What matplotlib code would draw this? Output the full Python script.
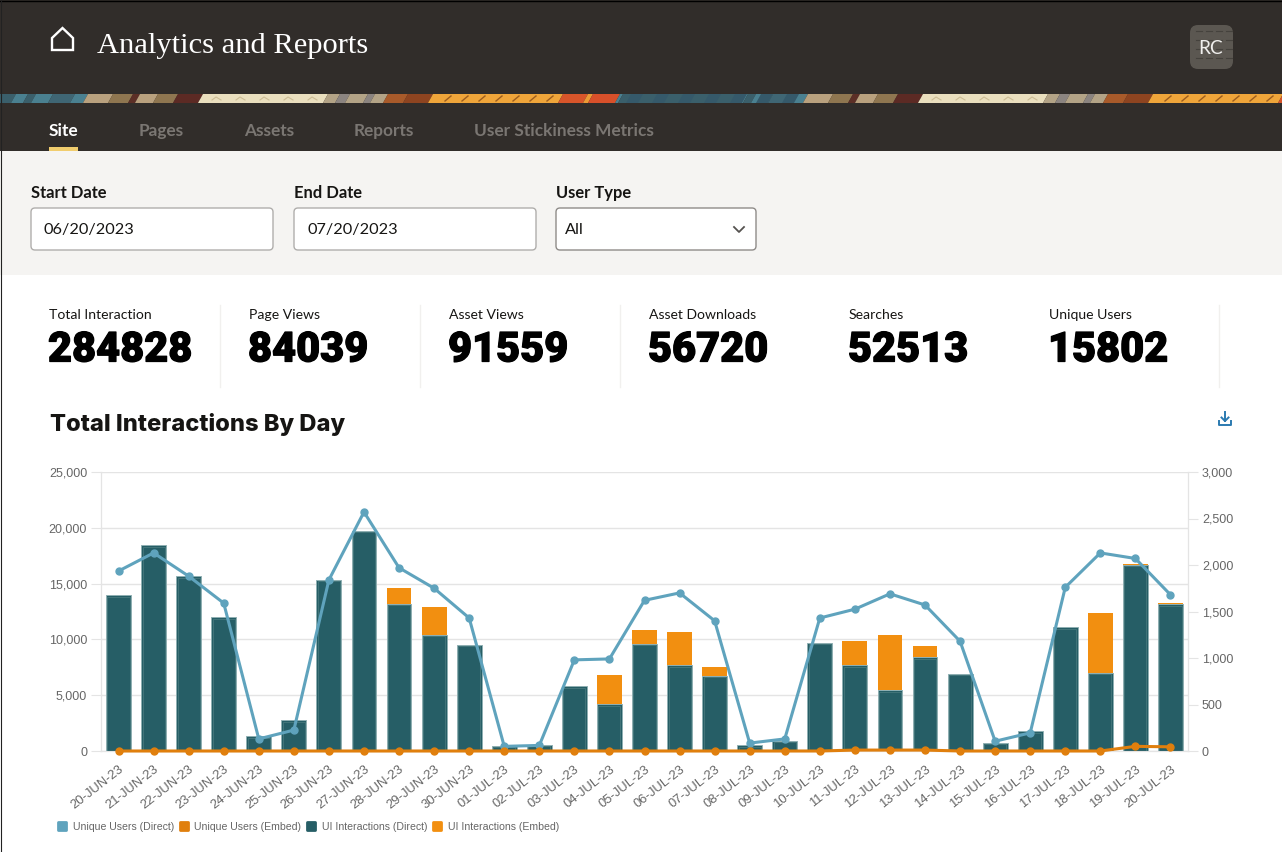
import matplotlib
matplotlib.use("Agg")
import matplotlib.pyplot as plt
import matplotlib.patheffects as pe
from matplotlib.lines import Line2D
from matplotlib.markers import MarkerStyle
from matplotlib.patches import FancyBboxPatch, Polygon, Rectangle

W, H = 1282, 852

days = ['20-JUN-23', '21-JUN-23', '22-JUN-23', '23-JUN-23', '24-JUN-23', '25-JUN-23', '26-JUN-23',
        '27-JUN-23', '28-JUN-23', '29-JUN-23', '30-JUN-23', '01-JUL-23', '02-JUL-23', '03-JUL-23',
        '04-JUL-23', '05-JUL-23', '06-JUL-23', '07-JUL-23', '08-JUL-23', '09-JUL-23', '10-JUL-23',
        '11-JUL-23', '12-JUL-23', '13-JUL-23', '14-JUL-23', '15-JUL-23', '16-JUL-23', '17-JUL-23',
        '18-JUL-23', '19-JUL-23', '20-JUL-23']
ui_direct = [13950, 18450, 15650, 12000, 1300, 2750, 15350, 19750, 13200, 10400, 9500, 450, 550, 5800,
             4200, 9600, 7700, 6750, 500, 900, 9700, 7700, 5450, 8400, 6900, 750, 1750, 11100,
             7000, 16700, 13150]
ui_embed = [0, 0, 0, 0, 0, 0, 0, 0, 1400, 2500, 0, 0, 0, 0,
            2600, 1250, 2950, 750, 0, 0, 0, 2150, 4950, 1000, 0, 0, 0, 0,
            5400, 100, 100]
users_direct = [1935, 2130, 1880, 1590, 130, 225, 1840, 2570, 1970, 1750, 1430, 50, 60, 980,
                990, 1620, 1700, 1400, 85, 130, 1430, 1525, 1690, 1570, 1180, 105, 195, 1760,
                2130, 2070, 1680]
users_embed = [0, 0, 0, 0, 0, 0, 0, 0, 0, 0, 0, 0, 0, 0,
               0, 0, 0, 0, 0, 0, 0, 10, 10, 10, 0, 0, 0, 0,
               0, 50, 45]

left_ticks = [0, 5000, 10000, 15000, 20000, 25000]
right_ticks = [0, 500, 1000, 1500, 2000, 2500, 3000]

tabs = ['Site', 'Pages', 'Assets', 'Reports', 'User Stickiness Metrics']
tab_x = [49, 139, 244, 354, 474]
stat_names = ['Total Interaction', 'Page Views', 'Asset Views', 'Asset Downloads', 'Searches', 'Unique Users']
stat_values = ['284828', '84039', '91559', '56720', '52513', '15802']
stat_x = [49, 249, 449, 649, 849, 1049]
separator_x = [220, 420, 620, 1219]

C_HEAD = '#312d2a'
C_TEAL = '#265e66'
C_ORANGE = '#f28f10'
C_LINE = '#5fa3bd'
C_LINE2 = '#e07f0d'
C_GRID = '#e4e4e4'
C_TICK = '#666666'

UI_FONT = ['Lato', 'DejaVu Sans']
CHART_FONT = ['Liberation Sans', 'DejaVu Sans']


def px(size):
    return size * 0.72


fig = plt.figure(figsize=(W / 100, H / 100), dpi=100, facecolor='white')

# page furniture, in pixel coordinates
bg = fig.add_axes([0, 0, 1, 1])
bg.set_xlim(0, W)
bg.set_ylim(H, 0)
bg.axis('off')

bg.add_patch(Rectangle((0, 0), W, 151, color=C_HEAD, lw=0))
bg.add_patch(Rectangle((0, 151), W, 124, color='#f5f4f2', lw=0))
bg.plot([0, W], [0.5, 0.5], color='#000000', lw=1)
bg.plot([0.5, 0.5], [0, H], color='#222222', lw=0.8)

# woven banner strip, repeats every 720 px
strip = [(-100, 13, '#3a5f6b'), (13, 25, '#4a8090'), (25, 33, '#3a5f6b'), (33, 50, '#4a8090'),
         (50, 72, '#3f6674'), (72, 85, '#4a8090'), (85, 110, '#b9a17e'), (110, 130, '#8f7650'),
         (130, 137, '#5c2f26'), (137, 155, '#b9a17e'), (155, 175, '#8f7650'), (175, 200, '#5c2a24'),
         (200, 325, '#eadfbe'), (325, 337, '#b3a386'), (337, 347, '#8b8480'), (347, 365, '#b3a386'),
         (365, 372, '#8b8480'), (372, 385, '#b3a386'), (385, 405, '#a85a2a'), (405, 430, '#8e4420'),
         (430, 560, '#efa53a'), (560, 585, '#d8552a'), (585, 590, '#ec9a35'), (590, 617, '#d8502a'),
         (617, 620, '#4a8090')]
for shift in (0, 720):
    for x0, x1, col in strip:
        bg.add_patch(Polygon([(x0 + shift + 3, 94), (x1 + shift + 3, 94), (x1 + shift - 2, 103), (x0 + shift - 2, 103)],
                             color=col, lw=0))
    for sx in range(445, 560, 17):
        bg.plot([sx + shift + 6, sx + shift], [96, 101], color='#9c5d1e', lw=1)
    for sx in range(212, 320, 24):
        bg.plot([sx + shift, sx + shift + 4, sx + shift + 9], [100, 97, 100], color='#cdbd96', lw=0.8)
bg.add_patch(Rectangle((620, 94), 185, 9, color='#4a8090', lw=0, zorder=0.9))
for sx in range(628, 800, 26):
    bg.add_patch(Polygon([(sx + 3, 94), (sx + 15, 94), (sx + 10, 103), (sx - 2, 103)], color='#35596a', lw=0))

# home icon
bg.add_patch(Polygon([(52, 50), (52, 38), (62.5, 28), (73, 38), (73, 50)], fill=False, ec='white', lw=1.7,
                     joinstyle='miter'))
bg.text(97, 46, 'Analytics and Reports', color='white', fontsize=px(30.5), family='Liberation Serif',
        va='center', ha='left')

# avatar
bg.add_patch(FancyBboxPatch((1190, 25), 43, 44, boxstyle='round,pad=0,rounding_size=8', fc='#5b5751', ec='none'))
for bx in range(1196, 1228, 10):
    for by in range(31, 66, 9):
        bg.plot([bx, bx + 6], [by, by], color='#45423d', lw=0.8)
bg.text(1211, 48, 'RC', color='#f0efed', fontsize=px(19), family=UI_FONT, ha='center', va='center')

for name, x in zip(tabs, tab_x):
    active = name == 'Site'
    bg.text(x, 131, name, color='white' if active else '#7a7672', fontsize=px(17.2), family=UI_FONT,
            weight='bold', ha='left', va='center')
bg.add_patch(Rectangle((49, 147), 29, 4, color='#f1cd6e', lw=0))

# filter row
fields = [('Start Date', '06/20/2023', 31, 242), ('End Date', '07/20/2023', 294, 242), ('User Type', 'All', 556, 200)]
for label, value, x, w in fields:
    bg.text(x, 193, label, color='#161513', fontsize=px(16.5), family=UI_FONT, weight='bold', ha='left', va='center')
    bg.add_patch(FancyBboxPatch((x, 208), w, 42, boxstyle='round,pad=0,rounding_size=4', fc='white',
                                ec='#8f8c89' if label == 'User Type' else '#b0aeac', lw=1))
    bg.text(x + (9 if label == 'User Type' else 13), 230, value, color='#161513', fontsize=px(16.2), family=UI_FONT,
            ha='left', va='center')
bg.plot([734, 739, 744], [227, 232, 227], color='#55524f', lw=1.3)

# stat cards
for name, value, x in zip(stat_names, stat_values, stat_x):
    bg.text(x, 315, name, color='#161513', fontsize=px(14), family=UI_FONT, ha='left', va='center')
    bg.text(x - 1, 350, value, color='#000000', fontsize=px(41.5), family=['Roboto', 'Inter'], weight='black',
            ha='left', va='center', path_effects=[pe.withStroke(linewidth=0.9, foreground='#000000')])
for x in separator_x:
    bg.plot([x, x], [305, 387], color='#f1f0ee', lw=1)

bg.text(50, 424, 'Total Interactions By Day', color='#161513', fontsize=px(23.7), family=['Inter', 'Roboto'],
        weight='heavy', ha='left', va='center')

# download icon
bg.plot([1219, 1219, 1231, 1231], [421, 425, 425, 421], color='#2b7ab0', lw=1.4)
bg.plot([1225, 1225], [412, 421], color='#2b7ab0', lw=1.4)
bg.plot([1221.5, 1225, 1228.5], [417.5, 421, 417.5], color='#2b7ab0', lw=1.4)

# chart
ax = fig.add_axes([101 / W, 1 - 751 / H, 1087 / W, 279 / H])
ax.patch.set_alpha(0)
xs = list(range(len(days)))
ax.bar(xs, ui_direct, width=0.71, color=C_TEAL, edgecolor='#8fb0b3', linewidth=0.7, zorder=3)
ax.bar(xs, [v - 130 for v in ui_direct], width=0.63, fill=False, edgecolor='#47797d', linewidth=0.6, zorder=3)
ax.bar(xs, ui_embed, width=0.71, bottom=ui_direct, color=C_ORANGE, linewidth=0, zorder=3)
ax.set_xlim(-0.5, len(days) - 0.5)
ax.set_ylim(0, 25000)
ax.set_yticks(left_ticks)
ax.set_yticklabels([f'{v:,}' for v in left_ticks])
ax.set_xticks(xs)
ax.set_xticklabels(days, rotation=38, ha='right', rotation_mode='anchor')
ax.grid(axis='y', color=C_GRID, lw=1, zorder=0)
ax.tick_params(axis='y', length=7, color=C_GRID, labelsize=px(12.5), labelcolor=C_TICK, pad=3)
ax.tick_params(axis='x', length=0, labelsize=px(13), labelcolor=C_TICK, pad=9)
for lab in ax.get_xticklabels() + ax.get_yticklabels():
    lab.set_family(CHART_FONT)

ax2 = ax.twinx()
ax2.set_ylim(0, 3000)
ax2.set_yticks(right_ticks)
ax2.set_yticklabels([f'{v:,}' for v in right_ticks])
ax2.plot(xs, users_direct, color=C_LINE, lw=2.2, marker='o', ms=5, zorder=5, clip_on=False)
ax2.plot(xs, users_embed, color=C_LINE2, lw=2.2, marker='o', ms=5, zorder=6, clip_on=False)
ax2.tick_params(axis='y', length=7, color=C_GRID, labelsize=px(12.5), labelcolor=C_TICK, pad=3)
for lab in ax2.get_yticklabels():
    lab.set_family(CHART_FONT)

for a in (ax, ax2):
    a.spines['top'].set_visible(False)
    a.spines['bottom'].set_color(C_GRID)
    a.spines['left'].set_color(C_GRID)
    a.spines['right'].set_color(C_GRID)

swatch = MarkerStyle('s', joinstyle='round')
handles = [Line2D([], [], ls='none', marker=swatch, ms=5.5, mew=2, color=c) for c in (C_LINE, C_LINE2, C_TEAL, C_ORANGE)]
fig.legend(handles, ['Unique Users (Direct)', 'Unique Users (Embed)', 'UI Interactions (Direct)', 'UI Interactions (Embed)'],
           loc='center left', bbox_to_anchor=(49 / W, 1 - 827 / H), ncol=4, frameon=False, handletextpad=0.25,
           columnspacing=0.2, borderpad=0, handlelength=1.5,
           prop={'family': CHART_FONT, 'size': px(10.5)}, labelcolor=C_TICK)

fig.savefig('out.png', dpi=100)
